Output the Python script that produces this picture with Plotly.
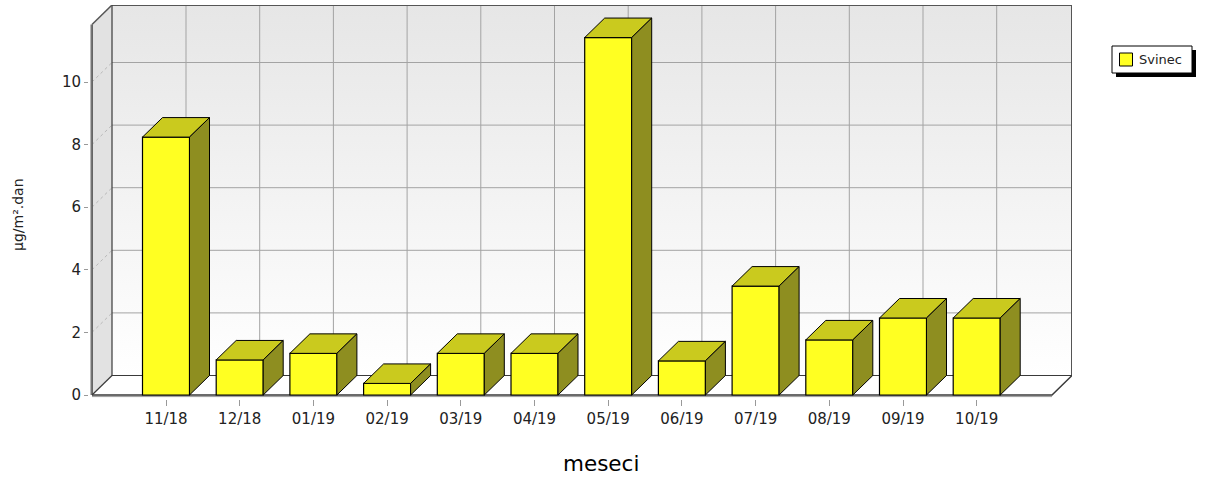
import plotly.graph_objects as go

# monthly values
categories = ["11/18", "12/18", "01/19", "02/19", "03/19", "04/19",
              "05/19", "06/19", "07/19", "08/19", "09/19", "10/19"]
svinec = [8.24, 1.12, 1.33, 0.37, 1.33, 1.33, 11.42, 1.09, 3.48, 1.76, 2.46, 2.46]
y_ticks = [0, 2, 4, 6, 8, 10]
series_name = "Svinec"

# pixel geometry of the 3D frame (reference is 1207x480)
PX_CAT = 73.7      # pixels per category
PX_UNIT = 31.3     # pixels per y unit
PLOT_L, PLOT_R, PLOT_T, PLOT_B = 89, 1072, 5, 399
X_LEFT = -(166 - PLOT_L) / PX_CAT
X_RIGHT = X_LEFT + (PLOT_R - PLOT_L) / PX_CAT
Y_BOT = -(PLOT_B - 395) / PX_UNIT
Y_TOP = (395 - PLOT_T) / PX_UNIT
XF0 = -(166 - 92) / PX_CAT           # front-left corner of floor
DX = 20 / PX_CAT                     # depth offset
DY = 19.5 / PX_UNIT
XF1 = X_RIGHT - DX                   # front-right corner of floor
BW = 47 / PX_CAT                     # bar width

EDGE = "#3a3a3a"
GRID = "#a3a3a3"


def px_x(p):
    return (p - PLOT_L) / (PLOT_R - PLOT_L)


def px_y(p):
    return (PLOT_B - p) / (PLOT_B - PLOT_T)


fig = go.Figure()


def poly(xs, ys, fill, line_color=EDGE, width=1, axes=("x", "y"), **kw):
    fig.add_trace(go.Scatter(x=xs, y=ys, mode="lines", fill="toself", fillcolor=fill,
                             line=dict(color=line_color, width=width),
                             xaxis=axes[0], yaxis=axes[1], hoverinfo="skip",
                             showlegend=False, **kw))


def seg(xs, ys, color, width=1, dash="solid"):
    fig.add_trace(go.Scatter(x=xs, y=ys, mode="lines", line=dict(color=color, width=width, dash=dash),
                             hoverinfo="skip", showlegend=False))


# back wall with vertical gradient
poly([XF0 + DX, X_RIGHT, X_RIGHT, XF0 + DX, XF0 + DX], [DY, DY, Y_TOP, Y_TOP, DY],
     "#ffffff", line_color="rgba(0,0,0,0)",
     fillgradient=dict(type="vertical", colorscale=[[0, "#ffffff"], [1, "#e6e6e6"]]))
# left wall
poly([XF0, XF0 + DX, XF0 + DX, XF0, XF0], [0, DY, Y_TOP, Y_TOP - DY, 0], "#e2e2e2",
     line_color="rgba(0,0,0,0)")
# floor
poly([XF0, XF1, X_RIGHT, XF0 + DX, XF0], [0, 0, DY, DY, 0], "#ffffff",
     line_color="rgba(0,0,0,0)")

# grid lines on back wall and left wall
for v in y_ticks[1:]:
    seg([XF0 + DX, X_RIGHT], [v + DY, v + DY], GRID)
    seg([XF0, XF0 + DX], [v, v + DY], "#b8b8b8", dash="dot")
for i in range(len(categories)):
    seg([i + DX, i + DX], [DY, Y_TOP], GRID)

# frame edges
seg([XF0 + DX, X_RIGHT, X_RIGHT], [Y_TOP, Y_TOP, DY], "#555555", 2)
seg([XF0 + DX, XF0 + DX, X_RIGHT], [Y_TOP, DY, DY], EDGE, 1.2)
seg([XF0, XF0 + DX], [Y_TOP - DY, Y_TOP], "#555555", 1.5)
seg([XF0, XF0], [0, Y_TOP - DY], "#666666", 2)
seg([XF0, XF1, X_RIGHT], [0, 0, DY], EDGE, 1.5)
seg([XF0, XF0 + DX], [0, DY], EDGE, 1.2)
# axis lines
seg([XF0, XF1], [Y_BOT * 0.4, Y_BOT * 0.4], "#9a9a9a", 1)
seg([X_LEFT + 0.6 * (XF0 - X_LEFT), X_LEFT + 0.6 * (XF0 - X_LEFT)], [0, Y_TOP - DY], "#9a9a9a", 1)

# bars: front faces on overlay axes so they sit above the walls
idx = list(range(len(categories)))
fig.add_trace(go.Bar(x=idx, y=svinec, width=BW, name=series_name, showlegend=False,
                     marker=dict(color="#ffff22", line=dict(color="#000000", width=1.2)),
                     xaxis="x2", yaxis="y2", hovertemplate="%{y}<extra></extra>"))
for i, v in zip(idx, svinec):
    l, r = i - BW / 2, i + BW / 2
    poly([l, l + DX, r + DX, r, l], [v, v + DY, v + DY, v, v], "#caca1e",
         line_color="#000000", axes=("x2", "y2"))
    poly([r, r + DX, r + DX, r, r], [0, DY, v + DY, v, 0], "#8e8e20",
         line_color="#000000", axes=("x2", "y2"))

# legend box with drop shadow
def rect(x0, y0, x1, y1, fill, line_w=0):
    fig.add_shape(type="rect", xref="paper", yref="paper",
                  x0=px_x(x0), x1=px_x(x1), y0=px_y(y1), y1=px_y(y0),
                  fillcolor=fill, line=dict(width=line_w, color="#000000"), layer="above")


rect(1116, 50, 1196, 77, "#000000")
rect(1112, 46, 1192, 73, "#ffffff", 1)
rect(1119.5, 53, 1132.5, 66, "#ffff22", 1)

tick_font = dict(family="DejaVu Sans", size=15, color="#222222")
fig.update_layout(
    width=1207, height=480,
    margin=dict(l=PLOT_L, r=1207 - PLOT_R, t=PLOT_T, b=480 - PLOT_B),
    paper_bgcolor="#ffffff", plot_bgcolor="#ffffff",
    showlegend=False,
    xaxis=dict(range=[X_LEFT, X_RIGHT], tickvals=idx, ticktext=categories,
               ticks="outside", ticklen=6, tickcolor="#999999", showgrid=False,
               zeroline=False, showline=False, tickfont=tick_font, fixedrange=True),
    yaxis=dict(range=[Y_BOT, Y_TOP], tickvals=y_ticks, ticks="outside", ticklen=4,
               tickcolor="#999999", showgrid=False, zeroline=False, showline=False,
               tickfont=tick_font, fixedrange=True),
    xaxis2=dict(range=[X_LEFT, X_RIGHT], overlaying="x", visible=False, fixedrange=True),
    yaxis2=dict(range=[Y_BOT, Y_TOP], overlaying="y", visible=False, fixedrange=True),
    annotations=[
        dict(text=series_name, xref="paper", yref="paper", x=px_x(1137), y=px_y(59.5),
             showarrow=False, xanchor="left", yanchor="middle",
             font=dict(family="DejaVu Sans", size=13, color="#222222")),
        dict(text="meseci", xref="paper", yref="paper", x=px_x(601), y=px_y(463),
             showarrow=False, xanchor="center", yanchor="middle",
             font=dict(family="DejaVu Sans", size=21.5, color="#000000")),
        dict(text="µg/m².dan", xref="paper", yref="paper", x=px_x(18), y=px_y(215),
             showarrow=False, textangle=-90, xanchor="center", yanchor="middle",
             font=dict(family="DejaVu Sans", size=14, color="#222222")),
    ],
)

# the page body has a default 8px margin; drop it so the figure sits at 0,0
fig.write_html("out.html", config={"displayModeBar": False},
               post_script="document.body.style.margin='0px';")
